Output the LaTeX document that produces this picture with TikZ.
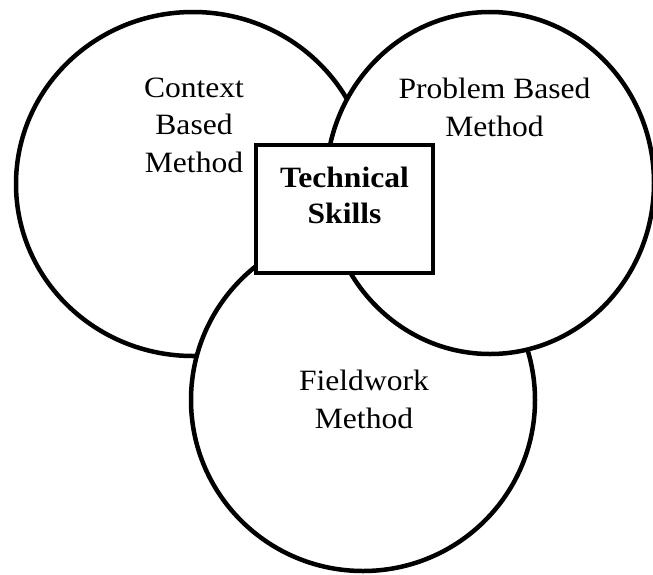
\documentclass[tikz,border=0pt]{standalone}
\usepackage{fontspec}
\setmainfont{Liberation Serif}[FakeStretch=1.07]
\usetikzlibrary{shapes.geometric}
\begin{document}
\begin{tikzpicture}[x=1pt,y=-1pt,
  circ/.style={ellipse, draw=black, fill=white, line width=4.5pt, inner sep=0pt, outer sep=0pt},
  lbl/.style={font=\fontsize{29.5}{37.5}\selectfont, align=center, inner sep=0pt, anchor=base},
  boxstyle/.style={rectangle, draw=black, fill=white, line width=4pt, inner sep=0pt, minimum width=177pt, minimum height=128pt},
  bold/.style={font=\fontsize{29.5}{36}\selectfont\bfseries, align=center, inner sep=0pt, anchor=base}]
\useasboundingbox (0,0) rectangle (653,574);
\clip (0,0) rectangle (653,574);
\node[circ, minimum width=354pt, minimum height=344pt] (L) at (193,184) {};
\node[circ, minimum width=344pt, minimum height=342pt] (B) at (363,400) {};
\node[circ, minimum width=328pt, minimum height=342pt] (R) at (490,183) {};
\node[boxstyle] (box) at (344.5,209) {};
\node[lbl] (ctx) at (194,172) {Context\\Based\\Method};
\node[lbl] (pbm) at (494.5,136) {Problem Based\\Method};
\node[lbl] (fwm) at (364,428) {Fieldwork\\Method};
\node[bold] (tech) at (344.5,223) {Technical\\Skills};
\end{tikzpicture}
\end{document}
